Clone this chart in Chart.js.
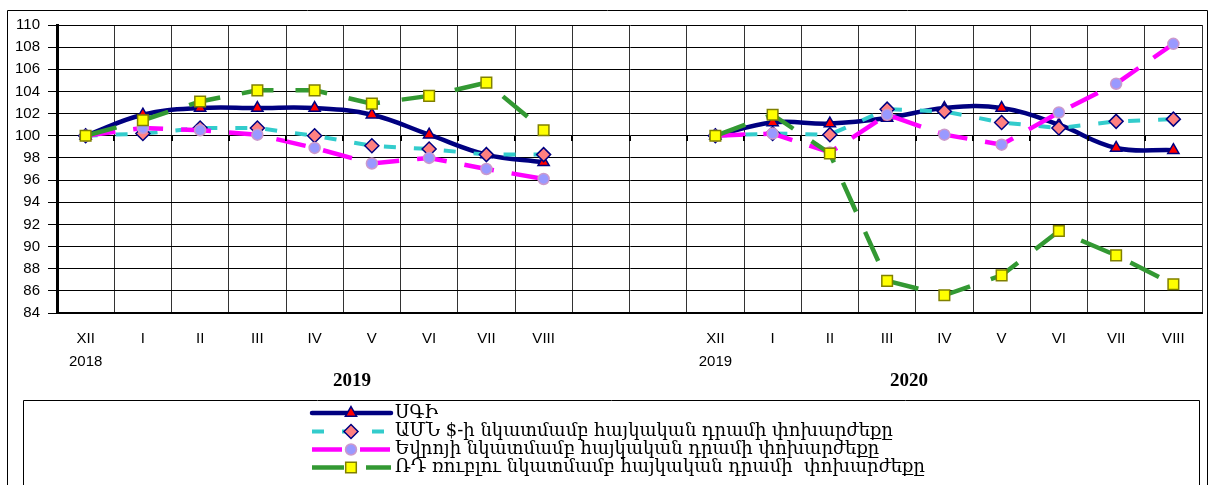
<!DOCTYPE html>
<html>
<head>
<meta charset="utf-8">
<script src="https://cdn.jsdelivr.net/npm/chart.js"></script>
<style>
  html, body { margin: 0; padding: 0; background: #fff; }
  #wrap { width: 1211px; height: 485px; position: relative; }
</style>
</head>
<body>
<div id="wrap"><canvas id="chart-index" width="1211" height="485"></canvas></div>
<script>
// 카테고리 (월) + 아래 연도
const monthLabels = ["XII", "I", "II", "III", "IV", "V", "VI", "VII", "VIII", "", "",
                     "XII", "I", "II", "III", "IV", "V", "VI", "VII", "VIII"];
const subYearLabels = ["2018", "", "", "", "", "", "", "", "", "", "",
                       "2019", "", "", "", "", "", "", "", ""];
const yearTitles = ["2019", "2020"];

// 데이터
const cpiData = [100, 101.9, 102.5, 102.5, 102.5, 101.9, 100.1, 98.3, 97.6, null, null,
                 100, 101.2, 101.1, 101.6, 102.5, 102.5, 101.0, 98.9, 98.7];
const usdData = [100, 100.2, 100.7, 100.7, 100.0, 99.1, 98.8, 98.3, 98.3, null, null,
                 100, 100.2, 100.1, 102.4, 102.2, 101.2, 100.7, 101.3, 101.5];
const eurData = [100, 100.7, 100.5, 100.1, 98.9, 97.5, 98.0, 97.0, 96.1, null, null,
                 100, 100.2, 98.5, 101.9, 100.1, 99.2, 102.1, 104.7, 108.3];
const rubData = [100, 101.4, 103.1, 104.1, 104.1, 102.9, 103.6, 104.8, 100.5, null, null,
                 100, 101.9, 98.4, 86.9, 85.6, 87.4, 91.4, 89.2, 86.6];

const seriesNames = [
    "ՍԳԻ",
    "ԱՄՆ $-ի նկատմամբ հայկական դրամի փոխարժեքը",
    "Եվրոյի նկատմամբ հայկական դրամի փոխարժեքը",
    "ՌԴ ռուբլու նկատմամբ հայկական դրամի  փոխարժեքը"
];

const yMin = 84;
const yMax = 110;
const yStep = 2;

const labels = monthLabels.map((m, i) => subYearLabels[i] ? [m, subYearLabels[i]] : m);

const cpiDatasets = {
    label: seriesNames[0],
    data: cpiData,
    borderColor: '#000080',
    borderWidth: 4.5,
    tension: 0.4,
    pointStyle: 'triangle',
    pointRadius: 6.5,
    pointBackgroundColor: '#FF0000',
    pointBorderColor: '#000080',
    pointBorderWidth: 1.5,
    order: 3
};

const usdDatasets = {
    label: seriesNames[1],
    data: usdData,
    borderColor: '#33CCCC',
    borderWidth: 4,
    borderDash: [12, 18],
    tension: 0,
    pointStyle: 'rectRot',
    pointRadius: 7,
    pointBackgroundColor: '#FF8080',
    pointBorderColor: '#000080',
    pointBorderWidth: 1.5,
    order: 2
};

const eurDatasets = {
    label: seriesNames[2],
    data: eurData,
    borderColor: '#FF00FF',
    borderWidth: 4.5,
    borderDash: [30, 18],
    tension: 0,
    pointStyle: 'circle',
    pointRadius: 5.5,
    pointBackgroundColor: '#9999FF',
    pointBorderColor: '#CC99CC',
    pointBorderWidth: 1.5,
    order: 1
};

const rubDatasets = {
    label: seriesNames[3],
    data: rubData,
    borderColor: '#339933',
    borderWidth: 4.5,
    borderDash: [32, 22],
    tension: 0,
    pointStyle: 'rect',
    pointRadius: 7.5,
    pointBackgroundColor: '#FFFF00',
    pointBorderColor: '#808000',
    pointBorderWidth: 1.5,
    order: 0
};

const allDatasets = [cpiDatasets, usdDatasets, eurDatasets, rubDatasets];

// 바깥 테두리, 100 선 눈금, 연도 제목, 범례 박스
const decorPlugin = {
    id: 'decor',
    beforeDraw(chart) {
        const ctx = chart.ctx;
        ctx.save();
        ctx.strokeStyle = '#000';
        ctx.lineWidth = 1;
        ctx.beginPath();
        ctx.moveTo(7.5, 500);
        ctx.lineTo(7.5, 10.5);
        ctx.lineTo(1207.5, 10.5);
        ctx.lineTo(1207.5, 500);
        ctx.stroke();
        ctx.restore();
    },
    afterDatasetsDraw(chart) {
        const ctx = chart.ctx;
        const x = chart.scales.x;
        const y = chart.scales.y;
        const y100 = Math.round(y.getPixelForValue(100));
        const step = x.width / monthLabels.length;
        ctx.save();
        ctx.strokeStyle = '#000';
        ctx.lineWidth = 2;
        ctx.beginPath();
        for (let k = 1; k < monthLabels.length; k++) {
            const px = Math.round(x.left + k * step);
            ctx.moveTo(px, y100);
            ctx.lineTo(px, y100 + 5);
        }
        ctx.stroke();
        ctx.restore();
    },
    afterDraw(chart) {
        const ctx = chart.ctx;
        ctx.save();

        // 연도 제목
        ctx.fillStyle = '#000';
        ctx.font = 'bold 19px "Liberation Serif", "DejaVu Serif", serif';
        ctx.textAlign = 'center';
        ctx.textBaseline = 'middle';
        ctx.fillText(yearTitles[0], 352, 381);
        ctx.fillText(yearTitles[1], 909, 381);

        // 범례 박스
        ctx.strokeStyle = '#000';
        ctx.lineWidth = 1;
        ctx.beginPath();
        ctx.moveTo(23.5, 500);
        ctx.lineTo(23.5, 400.5);
        ctx.lineTo(1199.5, 400.5);
        ctx.lineTo(1199.5, 500);
        ctx.stroke();

        const lineStart = 312;
        const lineEnd = 391;
        const markerX = 351;
        const textX = 395;
        const rowY = [413, 431.5, 449.5, 467.5];

        allDatasets.forEach((ds, i) => {
            const yy = rowY[i];
            ctx.save();
            ctx.strokeStyle = ds.borderColor;
            ctx.lineWidth = ds.borderWidth;
            ctx.lineCap = ds.borderDash ? 'butt' : 'round';
            ctx.setLineDash(ds.borderDash || []);
            ctx.beginPath();
            ctx.moveTo(lineStart, yy);
            ctx.lineTo(lineEnd, yy);
            ctx.stroke();
            ctx.restore();

            ctx.save();
            ctx.fillStyle = ds.pointBackgroundColor;
            ctx.strokeStyle = ds.pointBorderColor;
            ctx.lineWidth = ds.pointBorderWidth;
            Chart.helpers.drawPoint(ctx, {
                pointStyle: ds.pointStyle,
                radius: ds.pointRadius,
                rotation: 0,
                borderWidth: ds.pointBorderWidth
            }, markerX, yy);
            ctx.restore();

            ctx.fillStyle = '#000';
            ctx.font = '18px "DejaVu Serif", "DejaVu Sans", serif';
            ctx.textAlign = 'left';
            ctx.textBaseline = 'middle';
            ctx.fillText(ds.label, textX, yy);
        });

        ctx.restore();
    }
};

const config_line = {
    type: 'line',
    data: {
        labels: labels,
        datasets: allDatasets
    },
    plugins: [decorPlugin],
    options: {
        responsive: false,
        animation: false,
        devicePixelRatio: 1,
        spanGaps: false,
        layout: {
            padding: { top: 25, right: 3, left: 0, bottom: 0 }
        },
        scales: {
            x: {
                offset: true,
                grid: {
                    offset: true,
                    color: '#333',
                    lineWidth: 1,
                    drawTicks: false
                },
                border: { color: '#000', width: 2 },
                ticks: {
                    autoSkip: false,
                    maxRotation: 0,
                    padding: 14,
                    color: '#000',
                    font: { family: '"Liberation Sans", Arial, sans-serif', size: 15, lineHeight: 1.53 }
                },
                afterFit(scale) {
                    scale.height = 172;
                }
            },
            y: {
                min: yMin,
                max: yMax,
                grid: {
                    color: '#000',
                    lineWidth: 1,
                    tickLength: 9
                },
                border: { color: '#000', width: 3 },
                ticks: {
                    stepSize: yStep,
                    padding: 8,
                    color: '#000',
                    font: { family: '"Liberation Sans", Arial, sans-serif', size: 15 }
                },
                afterFit(scale) {
                    scale.width = 57;
                }
            }
        },
        plugins: {
            legend: { display: false },
            tooltip: { enabled: false }
        }
    }
};

const indexChart = new Chart(document.getElementById("chart-index"), config_line);
</script>
</body>
</html>
